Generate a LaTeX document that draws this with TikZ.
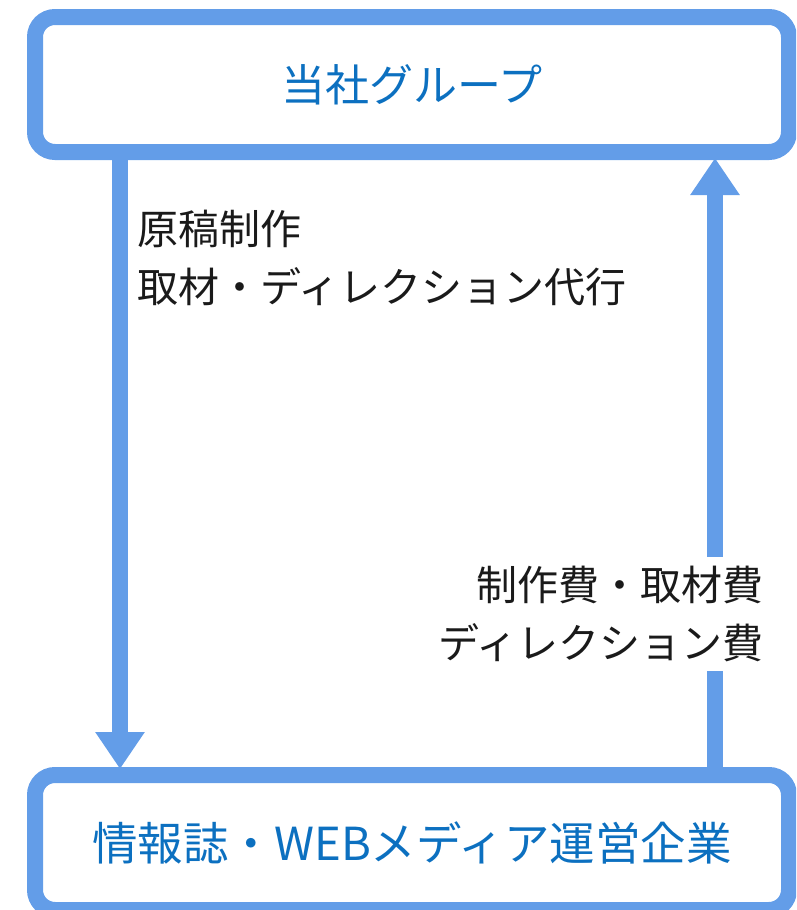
\documentclass[tikz,border=0pt]{standalone}
\usepackage{fontspec}
\newfontfamily\jp{Noto Sans CJK JP}
\usetikzlibrary{arrows.meta}
\definecolor{lineblue}{RGB}{99,157,232}
\definecolor{textblue}{RGB}{12,112,192}
\definecolor{textdark}{RGB}{26,26,26}
\begin{document}
\begin{tikzpicture}[x=1pt,y=-1pt,
  box/.style={draw=lineblue, line width=16pt, rounded corners=20pt, minimum width=754pt, minimum height=135pt, inner sep=0pt, text=textblue, font=\jp\fontsize{44}{50}\selectfont},
  lbl/.style={text=textdark, font=\jp\fontsize{41}{58}\selectfont, inner sep=0pt},
  flow/.style={draw=lineblue, line width=16pt},
  tipped/.style={-{Triangle[width=47pt,length=37pt]}, shorten >=-2pt}]
\useasboundingbox (0,0) rectangle (796,910);
\clip (0,0) rectangle (796,910);
\node[box] (top) at (412,84.5) {当社グループ};
\node[box, font=\jp\fontsize{45.5}{50}\selectfont] (bot) at (412,842.5) {情報誌・WEBメディア運営企業};
\coordinate (lx) at (120,0);
\coordinate (rx) at (715,0);
\node[lbl, align=left, anchor=west] (work) at (137,257.5) {原稿制作\\取材・ディレクション代行};
\node[lbl, align=right, anchor=east, minimum height=114pt] (fee) at (764,614) {制作費・取材費\\ディレクション費};
\draw[flow, tipped] (top.south -| lx) -- (bot.north -| lx);
\draw[flow] (bot.north -| rx) -- (fee.south -| rx);
\draw[flow, tipped] (fee.north -| rx) -- (top.south -| rx);
\end{tikzpicture}
\end{document}
